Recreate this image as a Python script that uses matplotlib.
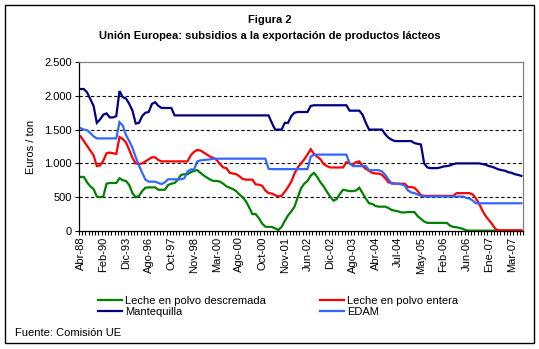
import matplotlib
matplotlib.use('Agg')
import matplotlib.pyplot as plt
from matplotlib.patches import Rectangle
from matplotlib.ticker import FixedLocator, FuncFormatter
import numpy as np

plt.rcParams['font.family'] = ['Liberation Sans', 'DejaVu Sans']
plt.rcParams['font.size'] = 8

# tick labels, one every 7 periods
labels = ['Abr-88', 'Feb-90', 'Dic-93', 'Ago-96', 'Oct-97', 'Nov-98', 'Mar-00',
          'Ago-00', 'Oct-00', 'Nov-01', 'Jun-02', 'Dic-02', 'Ago-03', 'Abr-04',
          'Jul-04', 'May-05', 'Feb-06', 'Jun-06', 'Ene-07', 'Mar-07']

# euros / ton per period
descremada = [
    800, 800, 720, 660, 620, 510, 500, 510, 700, 710,
    710, 710, 780, 750, 740, 680, 560, 500, 520, 590,
    640, 645, 645, 645, 610, 610, 610, 680, 700, 710,
    760, 830, 840, 840, 870, 890, 900, 860, 820, 790,
    760, 740, 740, 730, 700, 660, 640, 620, 590, 540,
    500, 440, 350, 250, 250, 190, 110, 64, 60, 60,
    40, 15, 60, 150, 230, 290, 360, 500, 630, 700,
    740, 820, 860, 800, 720, 660, 580, 510, 450, 470,
    550, 610, 600, 590, 590, 600, 640, 560, 480, 410,
    400, 370, 360, 360, 360, 340, 310, 300, 290, 275,
    275, 280, 280, 280, 220, 180, 140, 120, 120, 120,
    120, 120, 120, 120, 80, 60, 55, 45, 30, 10,
    5, 5, 5, 5, 5, 5, 5, 5, 5, 5,
    5, 5, 5, 5, 5, 5, 5]

entera = [
    1400, 1330, 1260, 1190, 1120, 960, 970, 1040, 1150, 1160,
    1150, 1140, 1390, 1360, 1310, 1200, 1080, 1000, 990, 1000,
    1030, 1060, 1090, 1090, 1050, 1030, 1030, 1030, 1030, 1030,
    1030, 1030, 1030, 1030, 1120, 1170, 1200, 1190, 1160, 1130,
    1100, 1080, 1050, 990, 940, 930, 860, 850, 840, 810,
    770, 760, 760, 760, 690, 685, 670, 600, 560, 555,
    530, 510, 520, 580, 650, 730, 850, 940, 1000, 1060,
    1130, 1210, 1140, 1100, 1060, 990, 960, 940, 940, 940,
    940, 940, 1020, 1000, 980, 1020, 1030, 960, 920, 890,
    860, 850, 850, 830, 780, 720, 710, 700, 700, 700,
    700, 650, 650, 640, 590, 530, 520, 520, 520, 520,
    520, 520, 520, 520, 520, 520, 560, 560, 560, 560,
    560, 540, 480, 400, 300, 220, 160, 100, 30, 10,
    10, 10, 10, 10, 10, 10, 10]

mantequilla = [
    2100, 2100, 2050, 1950, 1850, 1600, 1650, 1720, 1740, 1680,
    1680, 1700, 2070, 1980, 1960, 1880, 1780, 1590, 1600, 1700,
    1750, 1760, 1880, 1905, 1850, 1820, 1820, 1820, 1820, 1710,
    1710, 1710, 1710, 1710, 1710, 1710, 1710, 1710, 1710, 1710,
    1710, 1710, 1710, 1710, 1710, 1710, 1710, 1710, 1710, 1710,
    1710, 1710, 1710, 1710, 1710, 1710, 1710, 1710, 1710, 1600,
    1500, 1500, 1500, 1600, 1600, 1700, 1750, 1760, 1760, 1760,
    1760, 1850, 1860, 1860, 1860, 1860, 1860, 1860, 1860, 1860,
    1860, 1860, 1860, 1780, 1780, 1780, 1780, 1720, 1600, 1500,
    1500, 1500, 1500, 1500, 1430, 1380, 1350, 1330, 1330, 1330,
    1330, 1330, 1330, 1300, 1290, 1280, 1000, 940, 930, 930,
    930, 940, 955, 960, 970, 990, 1000, 1000, 1000, 1000,
    1000, 1000, 1000, 1000, 990, 980, 960, 950, 930, 910,
    900, 890, 870, 860, 840, 830, 815]

edam = [
    1520, 1500, 1490, 1450, 1400, 1370, 1370, 1370, 1370, 1370,
    1370, 1370, 1610, 1560, 1420, 1330, 1230, 1090, 970, 860,
    760, 730, 730, 730, 710, 695, 720, 765, 765, 765,
    765, 765, 780, 880, 910, 910, 1030, 1045, 1050, 1055,
    1060, 1070, 1070, 1070, 1070, 1070, 1070, 1070, 1070, 1070,
    1070, 1070, 1070, 1070, 1070, 1070, 1070, 1070, 920, 915,
    915, 915, 915, 915, 915, 915, 915, 915, 915, 915,
    915, 1100, 1130, 1130, 1130, 1130, 1130, 1130, 1130, 1130,
    1130, 1130, 1130, 1000, 960, 960, 960, 960, 960, 900,
    900, 900, 900, 880, 830, 760, 700, 700, 700, 690,
    670, 600, 570, 560, 540, 520, 510, 510, 510, 510,
    510, 510, 510, 510, 510, 510, 510, 510, 510, 490,
    480, 450, 410, 410, 410, 410, 410, 410, 410, 410,
    410, 410, 410, 410, 410, 410, 410]

series = [
    (descremada, 'Leche en polvo descremada', '#008000'),
    (entera, 'Leche en polvo entera', '#ff0000'),
    (mantequilla, 'Mantequilla', '#000080'),
    (edam, 'EDAM', '#3366ff'),
]

W, H = 539, 349
fig = plt.figure(figsize=(W / 100, H / 100), dpi=100)

# outer frame
fig.add_artist(Rectangle((5 / W, 6 / H), 529 / W, 338 / H, transform=fig.transFigure,
                         fill=False, edgecolor='black', linewidth=1))

fig.text(0.5, 1 - 20 / H, 'Figura 2', ha='center', va='center', fontweight='bold')
fig.text(0.5, 1 - 36 / H, 'Unión Europea: subsidios a la exportación de productos lácteos',
         ha='center', va='center', fontweight='bold')

ax = fig.add_axes([79 / W, (H - 231) / H, 444 / W, 169 / H])

n = len(descremada)
x = np.arange(n)
lines = []
for vals, name, col in series:
    ln, = ax.plot(x, vals, color=col, linewidth=1.6, label=name, solid_joinstyle='miter')
    lines.append(ln)

ax.set_xlim(-0.5, n - 0.5)
ax.set_ylim(0, 2500)
ax.set_yticks([0, 500, 1000, 1500, 2000, 2500])
ax.yaxis.set_major_formatter(FuncFormatter(lambda v, p: f'{int(v):,}'.replace(',', '.')))
for yv in [500, 1000, 1500, 2000]:
    ax.axhline(yv, color='black', linewidth=0.8, linestyle=(0, (3, 2.2)), zorder=0)

ax.set_xticks(np.arange(len(labels)) * 7)
ax.set_xticklabels(labels, rotation=90)
ax.tick_params(axis='x', length=0, pad=4)
ax.xaxis.set_minor_locator(FixedLocator(np.arange(n + 1) - 0.5))
ax.tick_params(axis='x', which='minor', length=3, width=0.8, direction='out')
ax.tick_params(axis='y', length=3, width=0.8, direction='out', pad=2)

ax.spines['top'].set_color('#808080')
ax.spines['right'].set_color('#808080')
for s in ax.spines.values():
    s.set_linewidth(0.9)

fig.text(31 / W, 1 - 147 / H, 'Euros / ton', rotation=90, ha='center', va='center')

leg_kw = dict(loc='upper left', frameon=False, handlelength=2.2, handletextpad=0.25,
              labelspacing=0.1, borderpad=0, borderaxespad=0)
fig.legend([lines[0], lines[2]], [series[0][1], series[2][1]],
           bbox_to_anchor=(98 / W, 1 - 296 / H), **leg_kw)
fig.legend([lines[1], lines[3]], [series[1][1], series[3][1]],
           bbox_to_anchor=(320 / W, 1 - 296 / H), **leg_kw)

fig.text(15 / W, 1 - 333 / H, 'Fuente: Comisión UE', ha='left', va='center')

fig.savefig('out.png', dpi=100)
